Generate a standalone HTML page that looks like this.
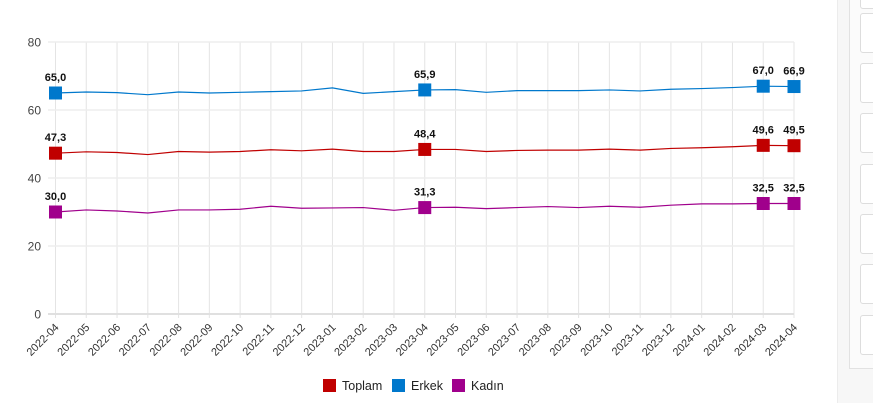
<!DOCTYPE html>
<html><head><meta charset="utf-8">
<style>
html,body{margin:0;padding:0;background:#fff;}
body{width:873px;height:403px;overflow:hidden;position:relative;font-family:"Liberation Sans",sans-serif;}
#side{position:absolute;left:837px;top:0;width:36px;height:403px;background:#f7f7f7;border-left:1px solid #ececec;}
#panel{position:absolute;left:11px;top:-2px;width:40px;height:369px;background:#fbfbfb;border:1px solid #e2e2e2;}
.box{position:absolute;left:10px;width:40px;height:38px;background:#fff;border:1px solid #ddd;border-radius:3px;}
</style></head><body>
<svg id="chart" width="873" height="403" style="position:absolute;left:0;top:0"></svg>
<div id="side">
 <div id="panel">
  <div class="box" style="top:-30px"></div>
  <div class="box" style="top:14px"></div>
  <div class="box" style="top:64px"></div>
  <div class="box" style="top:114px"></div>
  <div class="box" style="top:165px"></div>
  <div class="box" style="top:215px"></div>
  <div class="box" style="top:265px"></div>
  <div class="box" style="top:316px"></div>
 </div>
</div>
<script>
const categories=["2022-04","2022-05","2022-06","2022-07","2022-08","2022-09","2022-10","2022-11","2022-12","2023-01","2023-02","2023-03","2023-04","2023-05","2023-06","2023-07","2023-08","2023-09","2023-10","2023-11","2023-12","2024-01","2024-02","2024-03","2024-04"];
const toplam=[47.3,47.7,47.5,46.9,47.8,47.6,47.8,48.3,48.0,48.5,47.8,47.8,48.4,48.4,47.8,48.1,48.2,48.2,48.5,48.2,48.7,48.9,49.2,49.6,49.5];
const erkek=[65.0,65.3,65.1,64.5,65.3,65.0,65.2,65.4,65.6,66.5,64.9,65.4,65.9,66.0,65.2,65.7,65.7,65.7,65.9,65.6,66.1,66.3,66.6,67.0,66.9];
const kadin=[30.0,30.6,30.3,29.7,30.6,30.6,30.8,31.7,31.1,31.2,31.3,30.5,31.3,31.4,31.0,31.3,31.6,31.3,31.7,31.4,32.0,32.4,32.4,32.5,32.5];
const yTicks=[0,20,40,60,80];
const markedIdx=[0,12,23,24];
const seriesNames=["Toplam","Erkek","Kadın"];
const seriesColors=["#c00000","#0078cc","#a0008c"];

const svg=document.getElementById('chart');
const NS='http://www.w3.org/2000/svg';
const x0=55.5,x1=794,yTop=42,yBot=314,yMax=80;
const xs=i=>x0+(x1-x0)*i/(categories.length-1);
const ys=v=>yBot-(yBot-yTop)*v/yMax;
function mk(t,a){const e=document.createElementNS(NS,t);for(const k in a)e.setAttribute(k,a[k]);svg.appendChild(e);return e;}

categories.forEach((c,i)=>{
 const g=mk('line',{x1:xs(i),x2:xs(i),y1:yTop,y2:yBot+4,stroke:'#e4e4e4','stroke-width':1});
 
 
 const t=mk('text',{x:xs(i)+4,y:yBot+14,'font-size':11,fill:'#333','text-anchor':'end',transform:`rotate(-45 ${xs(i)+4} ${yBot+14})`});
 t.textContent=c;
 
 
});
yTicks.forEach(v=>{
 const g=mk('line',{x1:48,x2:x1,y1:ys(v),y2:ys(v),stroke:v===0?'#e0e0e0':'#ededed','stroke-width':v===0?2:1.5});
 
 
 const t=mk('text',{x:41,y:ys(v)+4.5,'font-size':12,fill:'#444','text-anchor':'end'});
 t.textContent=v;
 
 
});
[toplam,erkek,kadin].forEach((d,s)=>{
 const p=mk('polyline',{points:d.map((v,i)=>xs(i)+','+ys(v)).join(' '),fill:'none',stroke:seriesColors[s],'stroke-width':1.2});
 
 
 markedIdx.forEach(i=>{
  const r=mk('rect',{x:xs(i)-6.5,y:ys(d[i])-6.5,width:13,height:13,fill:seriesColors[s]});
  
  
  const t=mk('text',{x:xs(i),y:ys(d[i])-12,'font-size':11,'font-weight':'bold',fill:'#111','text-anchor':'middle'});
  t.textContent=d[i].toFixed(1).replace('.',',');
  
  
 });
});
const legX=[323,392,452];
seriesNames.forEach((n,s)=>{
 const r=mk('rect',{x:legX[s],y:379,width:13,height:13,fill:seriesColors[s]});
 
 
 const t=mk('text',{x:legX[s]+19,y:390,'font-size':12.5,fill:'#222'});
 t.textContent=n;
 
 
});
</script>
</body></html>
